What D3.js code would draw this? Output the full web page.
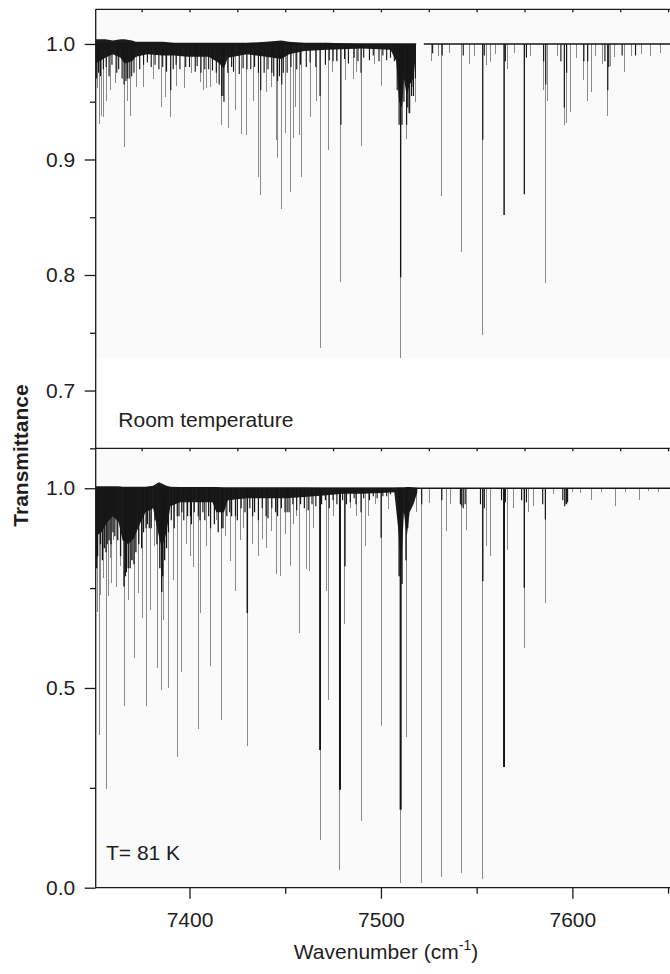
<!DOCTYPE html>
<html>
<head>
<meta charset="utf-8">
<script src="https://cdn.jsdelivr.net/npm/d3@7"></script>
<style>
  html, body { margin: 0; padding: 0; background: #fff; }
  svg { display: block; font-family: "Liberation Sans", Arial, Helvetica, sans-serif; }
  .axis path { display: none; }
  .axis line { stroke: #1a1a1a; stroke-width: 1.3; }
  .axis text { font-size: 21px; fill: #1e1e1e; font-family: "Liberation Sans", Arial, sans-serif; }
  .frame { stroke: #1a1a1a; stroke-width: 1.3; }
</style>
</head>
<body>
<svg id="chart" width="670" height="974"></svg>
<script>
// Absorption spectrum, two stacked panels (room temperature / 81 K)
// sharing one wavenumber axis. Lines are stored as [wavenumber, transmittance].

const xDomain = [7351, 7651];
const xMajorTicks = [7400, 7500, 7600];
const xMinorTicks = [7450, 7550, 7650];
const xBorderTicks = [7375, 7400, 7425, 7450, 7475, 7500, 7525, 7550, 7575, 7600, 7625, 7650];

const roomDomain = [0.65, 1.03];
const roomMajorTicks = [0.7, 0.8, 0.9, 1.0];
const roomMinorTicks = [0.65, 0.75, 0.85, 0.95];
const coldDomain = [0, 1.1];
const coldMajorTicks = [0.0, 0.5, 1.0];
const coldMinorTicks = [0.25, 0.75];

// baseline pieces (the room temperature scan has a short gap)
const roomSegments = [[7351, 7518.4], [7522.4, 7651]];
const coldSegments = [[7351, 7651]];

// room temperature: individual lines (thin, grey)
const roomLines = [
  [7352.0, 0.962], [7352.9, 0.931], [7354.1, 0.938], [7355.3, 0.937], [7356.4, 0.951], [7358.5, 0.960],
  [7361.1, 0.966], [7365.8, 0.911], [7367.7, 0.951], [7369.4, 0.938], [7372.4, 0.963], [7375.9, 0.963],
  [7381.1, 0.970], [7385.5, 0.945], [7387.6, 0.954], [7390.2, 0.937], [7393.3, 0.964], [7397.6, 0.962],
  [7401.1, 0.975], [7405.5, 0.967], [7407.2, 0.960], [7409.0, 0.962], [7411.2, 0.963], [7414.2, 0.966],
  [7416.8, 0.930], [7420.3, 0.927], [7423.8, 0.943], [7427.3, 0.922], [7429.9, 0.921], [7433.3, 0.951],
  [7435.9, 0.885], [7437.2, 0.869], [7440.3, 0.958], [7442.9, 0.963], [7445.2, 0.917], [7445.9, 0.901],
  [7448.2, 0.857], [7449.9, 0.923], [7452.5, 0.872], [7454.2, 0.919], [7455.6, 0.945], [7457.7, 0.921],
  [7458.3, 0.885], [7463.0, 0.937], [7466.5, 0.951], [7468.2, 0.737], [7472.5, 0.908], [7474.9, 0.976],
  [7476.9, 0.986], [7479.1, 0.794], [7481.7, 0.969], [7485.6, 0.970], [7487.4, 0.976], [7489.6, 0.912],
  [7496.6, 0.983], [7500.4, 0.964], [7510.3, 0.728], [7513.4, 0.918], [7514.6, 0.940], [7516.4, 0.963],
  [7518.3, 0.950], [7526.5, 0.985], [7530.0, 0.990], [7531.8, 0.868], [7536.0, 0.992], [7542.2, 0.820],
  [7546.2, 0.983], [7549.0, 0.990], [7553.2, 0.748], [7555.3, 0.982], [7557.0, 0.984], [7560.0, 0.991],
  [7564.3, 0.852], [7566.2, 0.978], [7570.0, 0.992], [7574.9, 0.870], [7578.0, 0.990], [7584.8, 0.960],
  [7586.1, 0.793], [7587.1, 0.951], [7592.0, 0.990], [7595.8, 0.930], [7596.7, 0.932], [7598.8, 0.941],
  [7602.0, 0.988], [7605.7, 0.969], [7607.8, 0.951], [7609.8, 0.958], [7612.0, 0.990], [7615.9, 0.983],
  [7618.5, 0.938], [7619.7, 0.981], [7622.0, 0.989], [7627.2, 0.976], [7631.0, 0.990], [7636.0, 0.991],
  [7641.0, 0.990], [7646.0, 0.992]
];

// room temperature: strong line cores (black)
const roomStrong = [
  [7351.5, 0.970], [7352.5, 0.975], [7353.5, 0.972], [7355.0, 0.978], [7356.5, 0.980], [7358.0, 0.972],
  [7359.5, 0.982], [7362.0, 0.975], [7363.0, 0.978], [7364.8, 0.970], [7365.8, 0.965], [7366.8, 0.968],
  [7367.5, 0.970], [7368.5, 0.970], [7369.8, 0.972], [7371.0, 0.975], [7374.0, 0.978], [7376.0, 0.982],
  [7378.0, 0.984], [7380.0, 0.980], [7382.0, 0.982], [7384.0, 0.978], [7386.0, 0.980], [7388.0, 0.976],
  [7390.2, 0.960], [7391.5, 0.978], [7393.0, 0.982], [7395.0, 0.978], [7398.0, 0.980], [7400.0, 0.980],
  [7403.0, 0.976], [7404.0, 0.981], [7406.0, 0.975], [7408.0, 0.978], [7410.0, 0.978], [7412.0, 0.977],
  [7414.0, 0.975], [7415.5, 0.965], [7416.8, 0.955], [7417.5, 0.955], [7418.0, 0.950], [7420.0, 0.975],
  [7422.0, 0.980], [7423.0, 0.976], [7426.0, 0.974], [7428.0, 0.979], [7430.0, 0.978], [7432.0, 0.978],
  [7434.0, 0.980], [7436.0, 0.975], [7437.2, 0.960], [7439.0, 0.975], [7441.0, 0.978], [7443.0, 0.975],
  [7444.0, 0.972], [7446.0, 0.968], [7447.0, 0.972], [7448.2, 0.965], [7449.0, 0.975], [7451.0, 0.975],
  [7453.0, 0.980], [7456.0, 0.978], [7458.0, 0.982], [7461.0, 0.980], [7463.0, 0.984], [7466.0, 0.980],
  [7468.2, 0.955], [7471.0, 0.982], [7473.0, 0.986], [7475.0, 0.985], [7477.0, 0.985], [7479.1, 0.930],
  [7481.0, 0.987], [7483.0, 0.983], [7486.0, 0.988], [7488.0, 0.985], [7489.6, 0.975], [7491.0, 0.988],
  [7494.0, 0.986], [7496.0, 0.990], [7499.0, 0.985], [7501.0, 0.990], [7503.0, 0.986], [7505.0, 0.988],
  [7507.0, 0.985], [7508.5, 0.960], [7509.5, 0.930], [7510.3, 0.798], [7511.0, 0.930], [7512.0, 0.950],
  [7513.4, 0.930], [7514.0, 0.945], [7515.0, 0.940], [7516.0, 0.955], [7517.0, 0.955], [7518.0, 0.970],
  [7527.0, 0.992], [7532.0, 0.990], [7543.0, 0.990], [7553.2, 0.917], [7554.0, 0.990], [7564.3, 0.852],
  [7565.0, 0.985], [7574.9, 0.870], [7576.0, 0.988], [7585.0, 0.985], [7586.1, 0.965], [7594.0, 0.985],
  [7595.8, 0.945], [7597.0, 0.975], [7606.0, 0.985], [7608.0, 0.985], [7617.0, 0.985], [7618.5, 0.960],
  [7619.0, 0.980], [7626.0, 0.990], [7633.0, 0.990]
];

// room temperature: dense dark forest near the baseline [wavenumber, upper, lower]
const roomBand = [
  [7351, 1.004, 0.983], [7356, 1.004, 0.988], [7360, 1.003, 0.991], [7364, 1.004, 0.988],
  [7366, 1.004, 0.983], [7370, 1.003, 0.985], [7372, 1.002, 0.989], [7378, 1.002, 0.991],
  [7386, 1.002, 0.990], [7392, 1.001, 0.990], [7399, 1.001, 0.989], [7410, 1.001, 0.989],
  [7415, 1.001, 0.984], [7418, 1.001, 0.979], [7420, 1.001, 0.988], [7430, 1.001, 0.991],
  [7440, 1.002, 0.989], [7448, 1.003, 0.987], [7452, 1.002, 0.991], [7460, 1.001, 0.994],
  [7472, 1.001, 0.995], [7490, 1.000, 0.996], [7505, 1.000, 0.995], [7508, 1.000, 0.985],
  [7509.5, 1.000, 0.950], [7511, 1.000, 0.945], [7512, 1.000, 0.970], [7513.5, 1.000, 0.955],
  [7515, 1.000, 0.965], [7517, 1.000, 0.970], [7518.3, 1.000, 0.992]
];

// 81 K: individual lines (thin, grey)
const coldLines = [
  [7352.0, 0.690], [7352.9, 0.383], [7353.6, 0.734], [7355.0, 0.776], [7356.4, 0.247], [7357.6, 0.729],
  [7358.5, 0.825], [7359.4, 0.764], [7360.5, 0.870], [7362.0, 0.754], [7363.7, 0.805], [7365.8, 0.455],
  [7368.0, 0.721], [7369.5, 0.820], [7371.5, 0.575], [7373.3, 0.738], [7375.2, 0.676], [7377.3, 0.454],
  [7379.4, 0.696], [7381.5, 0.855], [7383.4, 0.550], [7385.5, 0.495], [7386.3, 0.671], [7388.9, 0.500],
  [7391.5, 0.771], [7393.6, 0.328], [7395.9, 0.541], [7398.5, 0.860], [7400.3, 0.830], [7402.0, 0.804],
  [7404.6, 0.397], [7406.0, 0.688], [7409.0, 0.855], [7411.1, 0.554], [7414.2, 0.920], [7416.8, 0.419],
  [7419.0, 0.880], [7421.2, 0.817], [7423.8, 0.742], [7426.4, 0.870], [7428.0, 0.900], [7430.2, 0.355],
  [7433.0, 0.860], [7436.0, 0.830], [7438.2, 0.872], [7440.3, 0.851], [7442.9, 0.894], [7445.6, 0.785],
  [7447.6, 0.780], [7449.9, 0.885], [7452.5, 0.805], [7454.2, 0.910], [7456.0, 0.930], [7457.7, 0.638],
  [7461.2, 0.797], [7462.9, 0.793], [7465.0, 0.900], [7468.2, 0.120], [7471.7, 0.743], [7472.5, 0.470],
  [7475.0, 0.930], [7478.6, 0.044], [7481.2, 0.659], [7484.0, 0.950], [7487.0, 0.930], [7489.6, 0.168],
  [7491.7, 0.855], [7493.4, 0.930], [7497.0, 0.960], [7500.1, 0.404], [7503.9, 0.947], [7510.3, 0.011],
  [7513.1, 0.378], [7518.7, 0.940], [7521.3, 0.011], [7525.6, 0.964], [7531.8, 0.027], [7534.4, 0.892],
  [7536.1, 0.960], [7542.2, 0.036], [7544.8, 0.896], [7553.2, 0.021], [7555.3, 0.855], [7557.0, 0.830],
  [7564.3, 0.302], [7566.2, 0.846], [7569.2, 0.950], [7574.9, 0.600], [7577.0, 0.940], [7579.6, 0.955],
  [7585.9, 0.713], [7590.0, 0.985], [7596.2, 0.960], [7600.0, 0.990], [7604.0, 0.988], [7610.1, 0.970],
  [7615.0, 0.990], [7622.3, 0.955], [7628.0, 0.990], [7635.3, 0.970], [7640.0, 0.992], [7645.0, 0.990]
];

// 81 K: strong line cores (black)
const coldStrong = [
  [7351.5, 0.800], [7352.0, 0.830], [7353.5, 0.860], [7354.5, 0.820], [7355.5, 0.850], [7356.4, 0.840],
  [7357.0, 0.860], [7358.0, 0.870], [7359.0, 0.860], [7360.0, 0.890], [7361.0, 0.880], [7362.5, 0.870],
  [7364.0, 0.830], [7365.8, 0.754], [7366.5, 0.780], [7367.0, 0.790], [7368.0, 0.800], [7369.0, 0.800],
  [7370.0, 0.820], [7371.0, 0.810], [7372.0, 0.840], [7373.5, 0.860], [7375.0, 0.850], [7376.0, 0.890],
  [7377.3, 0.900], [7378.0, 0.910], [7379.0, 0.900], [7380.0, 0.900], [7382.0, 0.920], [7383.0, 0.860],
  [7384.5, 0.800], [7385.5, 0.740], [7386.0, 0.780], [7387.0, 0.820], [7388.0, 0.850], [7389.0, 0.890],
  [7390.5, 0.920], [7392.0, 0.900], [7393.6, 0.930], [7394.5, 0.930], [7396.0, 0.940], [7397.0, 0.920],
  [7399.0, 0.930], [7400.5, 0.930], [7401.0, 0.910], [7402.5, 0.940], [7404.6, 0.930], [7405.5, 0.920],
  [7407.0, 0.940], [7408.0, 0.920], [7410.0, 0.930], [7411.0, 0.900], [7413.0, 0.910], [7415.0, 0.890],
  [7416.8, 0.900], [7417.5, 0.900], [7419.5, 0.930], [7421.0, 0.940], [7422.0, 0.930], [7424.0, 0.930],
  [7425.0, 0.920], [7427.0, 0.950], [7429.0, 0.940], [7430.2, 0.688], [7431.5, 0.950], [7433.0, 0.930],
  [7434.0, 0.940], [7436.0, 0.920], [7438.0, 0.950], [7440.0, 0.930], [7441.0, 0.925], [7443.0, 0.950],
  [7445.0, 0.940], [7446.0, 0.930], [7448.0, 0.950], [7449.9, 0.940], [7451.0, 0.940], [7452.0, 0.940],
  [7454.0, 0.960], [7456.0, 0.945], [7458.0, 0.960], [7460.0, 0.950], [7462.0, 0.945], [7464.0, 0.960],
  [7466.0, 0.955], [7468.2, 0.345], [7469.0, 0.960], [7471.0, 0.970], [7473.0, 0.950], [7475.0, 0.970],
  [7477.0, 0.960], [7478.6, 0.245], [7480.0, 0.970], [7481.2, 0.805], [7482.0, 0.960], [7484.0, 0.965],
  [7486.0, 0.975], [7487.0, 0.960], [7489.6, 0.940], [7491.0, 0.975], [7494.0, 0.970], [7496.0, 0.980],
  [7498.0, 0.975], [7500.1, 0.876], [7501.0, 0.980], [7503.0, 0.980], [7505.0, 0.985], [7509.5, 0.780],
  [7510.3, 0.195], [7511.0, 0.760], [7513.1, 0.820], [7514.0, 0.900], [7521.3, 0.960], [7531.8, 0.970],
  [7541.5, 0.960], [7542.2, 0.955], [7543.0, 0.950], [7544.0, 0.960], [7552.0, 0.960], [7553.2, 0.767],
  [7554.0, 0.950], [7563.0, 0.970], [7564.3, 0.302], [7565.0, 0.965], [7573.5, 0.970], [7574.9, 0.751],
  [7576.0, 0.965], [7584.5, 0.960], [7585.9, 0.922], [7595.0, 0.970], [7596.0, 0.955], [7597.0, 0.960],
  [7597.5, 0.965]
];

// 81 K: dense dark forest near the baseline [wavenumber, upper, lower]
const coldBand = [
  [7351, 1.005, 0.880], [7354, 1.005, 0.890], [7357, 1.005, 0.915], [7360, 1.005, 0.930],
  [7363, 1.005, 0.915], [7365, 1.004, 0.870], [7368, 1.004, 0.860], [7371, 1.004, 0.875],
  [7374, 1.004, 0.910], [7377, 1.004, 0.940], [7381, 1.006, 0.950], [7384, 1.015, 0.880],
  [7385.5, 1.012, 0.850], [7388, 1.006, 0.890], [7390, 1.004, 0.955], [7395, 1.003, 0.965],
  [7405, 1.003, 0.965], [7412, 1.003, 0.965], [7414, 1.003, 0.940], [7418, 1.002, 0.940],
  [7420, 1.002, 0.970], [7430, 1.002, 0.975], [7440, 1.002, 0.975], [7450, 1.002, 0.975],
  [7460, 1.002, 0.978], [7470, 1.001, 0.982], [7480, 1.001, 0.986], [7490, 1.001, 0.986],
  [7500, 1.001, 0.988], [7507, 1.001, 0.990], [7509, 1.002, 0.900], [7510.5, 1.002, 0.800],
  [7512, 1.002, 0.940], [7513.5, 1.003, 0.880], [7515, 1.003, 0.940], [7517, 1.002, 0.960],
  [7519, 1.001, 0.990]
];

const plotLeft = 95.7, plotRight = 670, plotTop = 9.3, plotMid = 448.3, plotBottom = 887.7;

const svg = d3.select('#chart');
const x = d3.scaleLinear().domain(xDomain).range([plotLeft, plotRight]);

// One panel: background, grey lines, dark forest, strong cores, baseline, left axis.
function drawPanel(id, domain, y0, y1, lines, strong, band, segments, majors, minors, shadeTo) {
  const y = d3.scaleLinear().domain(domain).range([y1, y0]);
  const g = svg.append('g');

  svg.append('clipPath').attr('id', 'clip-' + id)
    .append('rect').attr('x', plotLeft).attr('y', y0).attr('width', plotRight - plotLeft).attr('height', y1 - y0);
  const plot = g.append('g').attr('clip-path', `url(#clip-${id})`);

  // faint scan tint behind the trace
  plot.append('rect').attr('x', plotLeft).attr('y', y0).attr('width', plotRight - plotLeft)
    .attr('height', y(shadeTo) - y0).attr('fill', '#fafafa');

  plot.selectAll('line.weak').data(lines).enter().append('line').attr('class', 'weak')
    .attr('x1', d => x(d[0])).attr('x2', d => x(d[0]))
    .attr('y1', y(1)).attr('y2', d => y(d[1]))
    .attr('stroke', '#8a8a8a').attr('stroke-width', 1).attr('shape-rendering', 'crispEdges');

  const area = d3.area().x(d => x(d[0])).y0(d => y(d[1])).y1(d => y(d[2]));
  plot.append('path').datum(band).attr('d', area).attr('fill', '#1b1b1b');

  // deeper cores are drawn a little heavier, like the wide strong lines of the scan
  plot.selectAll('line.strong').data(strong).enter().append('line').attr('class', 'strong')
    .attr('x1', d => x(d[0])).attr('x2', d => x(d[0]))
    .attr('y1', y(1)).attr('y2', d => y(d[1]))
    .attr('stroke', '#151515').attr('stroke-width', d => 1.1 + (1 - d[1]) * 1.2);

  plot.selectAll('line.base').data(segments).enter().append('line').attr('class', 'base')
    .attr('x1', d => x(d[0])).attr('x2', d => x(d[1]))
    .attr('y1', y(1)).attr('y2', y(1))
    .attr('stroke', '#161616').attr('stroke-width', 1.4);

  g.append('g').attr('class', 'axis').attr('transform', `translate(${plotLeft},0)`)
    .call(d3.axisLeft(y).tickValues(majors).tickSize(11).tickSizeOuter(0).tickPadding(9.5).tickFormat(d3.format('.1f')));
  g.append('g').attr('class', 'axis').attr('transform', `translate(${plotLeft},0)`)
    .call(d3.axisLeft(y).tickValues(minors).tickSize(5.7).tickSizeOuter(0).tickFormat(''));

  // small inward ticks on the panel's top border
  g.append('g').attr('class', 'axis').attr('transform', `translate(0,${y0})`)
    .call(d3.axisTop(x).tickValues(xBorderTicks).tickSize(-3).tickSizeOuter(0).tickFormat(''));
  return y;
}

drawPanel('room', roomDomain, plotTop, plotMid, roomLines, roomStrong, roomBand, roomSegments, roomMajorTicks, roomMinorTicks, 0.728);
drawPanel('cold', coldDomain, plotMid, plotBottom, coldLines, coldStrong, coldBand, coldSegments, coldMajorTicks, coldMinorTicks, 0);

// frame lines
svg.append('line').attr('class', 'frame').attr('x1', plotLeft).attr('x2', plotLeft).attr('y1', plotTop).attr('y2', plotBottom);
[plotTop, plotMid, plotBottom].forEach(v => {
  svg.append('line').attr('class', 'frame').attr('x1', plotLeft).attr('x2', plotRight).attr('y1', v).attr('y2', v);
});

// shared wavenumber axis
svg.append('g').attr('class', 'axis').attr('transform', `translate(0,${plotBottom})`)
  .call(d3.axisBottom(x).tickValues(xMajorTicks).tickSize(11).tickSizeOuter(0).tickPadding(13).tickFormat(d3.format('d')));
svg.append('g').attr('class', 'axis').attr('transform', `translate(0,${plotBottom})`)
  .call(d3.axisBottom(x).tickValues(xMinorTicks).tickSize(6).tickSizeOuter(0).tickFormat(''));

// panel notes and axis titles
svg.append('text').attr('x', 118.3).attr('y', 426.7).attr('font-size', 21).attr('fill', '#1e1e1e').text('Room temperature');
svg.append('text').attr('x', 106).attr('y', 860).attr('font-size', 21).attr('fill', '#1e1e1e').text('T= 81 K');

svg.append('text').attr('transform', 'translate(28,455.5) rotate(-90)').attr('text-anchor', 'middle')
  .attr('font-size', 21).attr('font-weight', 'bold').attr('fill', '#1e1e1e').text('Transmittance');

const xt = svg.append('text').attr('x', 386).attr('y', 959).attr('text-anchor', 'middle')
  .attr('font-size', 21).attr('fill', '#1e1e1e');
xt.append('tspan').text('Wavenumber (cm');
xt.append('tspan').attr('dy', -9).attr('font-size', 14).text('-1');
xt.append('tspan').attr('dy', 9).text(')');
</script>
</body>
</html>
